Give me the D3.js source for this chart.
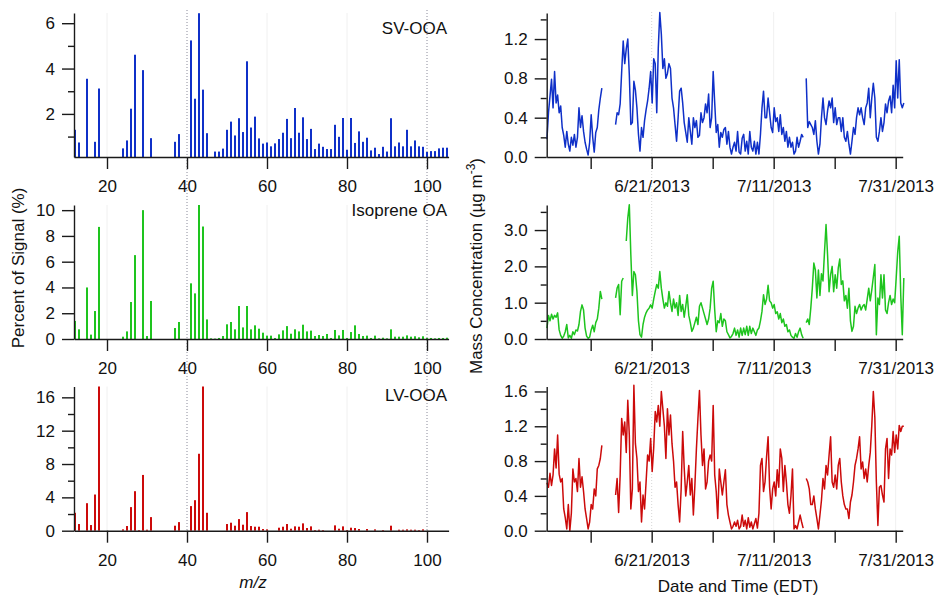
<!DOCTYPE html>
<html>
<head>
<meta charset="utf-8">
<script src="https://cdn.jsdelivr.net/npm/d3@7"></script>
<style>
  body { margin: 0; background: #fff; }
  svg text { font-family: "Liberation Sans", Arial, sans-serif; }
</style>
</head>
<body>
<div id="chart"></div>
<script>
// ---- mass spectra (m/z 12..105), percent of signal ----
var mz = d3.range(12, 106);
var svSpec = [
  1.3, 0.74, 0, 3.55, 0, 0.77, 3.12, 0, 0, 0,
  0, 0, 0.48, 0.83, 2.23, 4.61, 0, 3.93, 0, 0.93,
  0, 0, 0, 0, 0, 0.77, 1.11, 0, 0, 5.24,
  2.67, 6.44, 3.07, 1.15, 0, 0.34, 0.34, 0.47, 1.3, 1.66,
  1.05, 1.81, 1.2, 4.32, 1.4, 1.88, 0.92, 0.69, 0.74, 0.57,
  0.7, 0.89, 1.17, 1.78, 0.93, 2.26, 1.17, 1.85, 0.89, 1.34,
  0.45, 0.69, 0.55, 0.45, 0.45, 1.52, 0.99, 1.82, 0.42, 1.82,
  0.72, 1.23, 0.77, 0.95, 0.39, 0.51, 0.23, 0.55, 0.34, 1.81,
  0.57, 0.74, 0.57, 1.3, 0.57, 0.83, 0.57, 0.55, 0.32, 0.36,
  0.36, 0.48, 0.51, 0.51
];
var isoSpec = [
  1.4, 0.75, 0, 4.0, 0.34, 2.17, 8.7, 0, 0, 0,
  0, 0, 0.18, 0.59, 2.87, 6.51, 0, 10.0, 0.23, 2.95,
  0, 0, 0, 0, 0, 0.85, 1.32, 0, 0, 4.32,
  3.54, 10.46, 8.73, 1.52, 0.05, 0.03, 0.08, 0.23, 1.14, 1.32,
  0.75, 2.56, 0.9, 2.56, 0.75, 1.06, 0.8, 0.49, 0.26, 0.26,
  0.08, 0.36, 0.67, 1.0, 0.41, 0.75, 0.59, 1.11, 0.59, 0.65,
  0.23, 0.31, 0.23, 0.39, 0.08, 0.7, 0.28, 0.7, 0.08, 0.54,
  1.06, 0.39, 0.23, 0.26, 0.08, 0.26, 0.05, 0.1, 0.05, 0.75,
  0.18, 0.18, 0.18, 0.28, 0.18, 0.21, 0.13, 0.21, 0.08, 0.08,
  0.05, 0.08, 0.08, 0.1
];
var lvSpec = [
  2.15, 0.8, 0, 3.3, 0.68, 4.34, 17.3, 0, 0, 0,
  0, 0, 0.16, 0.56, 2.83, 4.74, 0.08, 6.69, 0.12, 1.63,
  0, 0, 0, 0, 0, 0.6, 1.03, 0, 0, 2.95,
  3.66, 9.23, 17.3, 2.15, 0, 0, 0, 0, 0.8, 0.96,
  0.6, 1.39, 0.72, 2.23, 0.56, 0.48, 0.48, 0.2, 0.16, 0,
  0, 0.36, 0.48, 0.8, 0.24, 0.52, 0.48, 0.88, 0.32, 0.52,
  0.08, 0.12, 0.08, 0, 0, 0.64, 0.24, 0.52, 0.08, 0.36,
  0.32, 0.2, 0, 0.2, 0, 0.16, 0, 0.08, 0, 0.6,
  0, 0.12, 0.12, 0.16, 0.12, 0.12, 0.08, 0.16, 0, 0,
  0, 0, 0, 0
];
var mzTicks = [20, 40, 60, 80, 100];

// ---- time series: one value every 6 h from 6/3/2013 20:00 EDT (ug m-3) ----
var tsStart = new Date(2013, 5, 3, 20);
var tsStepHours = 6;
var svTs = [
  0.18, 0.45, 0.62, 0.79, 0.5, 0.87, 0.55, 0.63, 0.45, 0.52,
  0.3, 0.22, 0.1, 0.26, 0.13, 0.06, 0.2, 0.12, 0.23, 0.1,
  0.2, 0.5, 0.3, 0.42, 0.26, 0.15, 0.08, 0.02, 0.15, 0.43,
  0.2, 0.05, 0.25, 0.3, 0.48, 0.6, 0.7, null, null, null,
  null, null, null, null, null, 0.33, 0.45, 0.43, 0.54, 0.87,
  1.18, 0.95, 1.1, 1.2, 0.84, 0.33, 0.35, 0.77, 0.68, 0.5,
  0.23, 0.06, 0.3, 0.2, 0.37, 0.48, 0.57, 0.7, 0.87, 0.55,
  1.0, 0.95, 0.45, 1.11, 1.47, 1.25, 0.9, 1.0, 0.8, 0.85,
  0.95, 0.9, 0.6, 0.5, 0.33, 0.16, 0.4, 0.67, 0.7, 0.55,
  0.35, 0.25, 0.15, 0.4, 0.26, 0.13, 0.4, 0.3, 0.37, 0.2,
  0.22, 0.45, 0.35, 0.4, 0.54, 0.45, 0.64, 0.3, 0.4, 0.87,
  0.55, 0.25, 0.33, 0.1, 0.25, 0.2, 0.28, 0.3, 0.13, 0.26,
  0.1, 0.03, 0.1, 0.15, 0.06, 0.26, 0.05, 0.03, 0.19, 0.23,
  0.06, 0.16, 0.03, 0.26, 0.1, 0.06, 0.16, 0.03, 0.15, 0.03,
  0.23, 0.5, 0.67, 0.4, 0.4, 0.6, 0.45, 0.3, 0.25, 0.5,
  0.36, 0.4, 0.26, 0.43, 0.23, 0.3, 0.16, 0.26, 0.1, 0.2,
  0.1, 0.15, 0.03, 0.06, 0.2, 0.1, 0.16, 0.23, 0.2, null,
  0.8, 0.3, 0.36, 0.33, 0.3, 0.23, 0.37, 0.16, 0.03, 0.13,
  0.4, 0.6, 0.4, 0.33, 0.47, 0.57, 0.5, 0.6, 0.35, 0.5,
  0.33, 0.4, 0.4, 0.26, 0.4, 0.2, 0.16, 0.26, 0.13, 0.03,
  0.16, 0.3, 0.23, 0.4, 0.5, 0.43, 0.5, 0.4, 0.33, 0.5,
  0.55, 0.7, 0.4, 0.6, 0.75, 0.6, 0.2, 0.16, 0.26, 0.4,
  0.26, 0.35, 0.54, 0.45, 0.57, 0.62, 0.45, 0.73, 0.5, 0.98,
  0.6, 0.99, 0.55, 0.5, 0.55
];
var isoTs = [
  0.3, 0.65, 0.5, 0.68, 0.55, 0.65, 0.6, 0.72, 0.25, 0.1,
  0.02, 0.08, 0.2, 0.4, 0.03, 0.1, 0.02, 0.2, 0.12, 0.25,
  0.22, 0.4, 0.76, 0.94, 0.8, 0.3, 0.08, 0.02, 0.05, 0.25,
  0.38, 0.2, 0.45, 0.55, 0.85, 1.31, 1.1, null, null, null,
  null, null, null, null, null, 1.13, 1.4, 1.5, 0.67, 1.59,
  1.68, null, 2.7, 3.33, 3.7, 2.32, 1.2, 1.86, 1.77, 1.31,
  0.5, 0.12, 0.05, 0.4, 0.6, 0.72, 0.8, 0.85, 0.94, 0.85,
  1.1, 1.31, 1.5, 1.4, 1.86, 1.4, 1.1, 0.85, 1.0, 0.9,
  1.31, 1.0, 0.76, 1.1, 0.85, 1.0, 0.65, 1.2, 0.76, 0.95,
  0.6, 0.9, 1.22, 0.65, 0.45, 0.21, 0.3, 0.45, 0.6, 0.4,
  0.9, 1.0, 0.85, 0.7, 0.55, 0.4, 0.55, 0.85, 1.4, 1.59,
  0.8, 0.2, 0.5, 0.45, 0.7, 0.35, 0.55, 0.5, 0.2, 0.12,
  0.03, 0.07, 0.15, 0.3, 0.1, 0.25, 0.05, 0.3, 0.1, 0.3,
  0.12, 0.35, 0.1, 0.35, 0.15, 0.3, 0.2, 0.1, 0.25, 0.3,
  0.5, 0.76, 1.22, 0.95, 1.1, 1.48, 1.05, 1.0, 0.85, 0.95,
  0.7, 0.75, 0.55, 0.7, 0.45, 0.55, 0.35, 0.4, 0.2, 0.25,
  0.1, 0.05, 0.02, 0.15, 0.05, 0.2, 0.3, 0.12, 0.02, null,
  0.45, 0.55, 0.4, 0.85, 1.4, 2.09, 1.9, 1.13, 1.9, 1.2,
  1.8, 1.6, 2.4, 3.15, 2.32, 1.3, 1.77, 2.0, 1.3, 1.77,
  1.4, 1.95, 2.2, 1.5, 1.6, 1.05, 1.2, 0.85, 1.4, 0.5,
  0.21, 0.35, 0.9, 0.7, 0.85, 0.95, 0.8, 0.9, 0.95, 0.8,
  1.1, 1.4, 1.05, 1.35, 1.7, 2.05, 0.12, 1.13, 0.95, 1.77,
  1.13, 1.77, 0.8, 0.7, 1.0, 1.2, 0.95, 1.1, 1.0, 1.68,
  2.4, 2.83, 1.2, 0.12, 1.68
];
var lvTs = [
  0.55, 0.5, 0.66, 0.52, 0.64, 0.94, 0.72, 1.1, 0.65, 0.56,
  0.6, 0.25, 0.15, 0.02, 0.3, 0.0, 0.2, 0.71, 0.56, 0.6,
  0.45, 0.83, 0.5, 0.62, 0.45, 0.25, 0.14, 0.02, 0.1, 0.3,
  0.25, 0.48, 0.4, 0.71, 0.75, 0.83, 0.98, null, null, null,
  null, null, null, null, null, 0.41, 0.6, 0.21, 0.64, 1.29,
  1.1, 1.25, 0.9, 1.5, 1.1, 0.25, 0.48, 1.67, 1.0, 0.83,
  0.45, 0.56, 0.1, 0.41, 0.25, 0.56, 0.87, 0.8, 1.06, 0.68,
  0.95, 1.37, 1.25, 1.44, 1.2, 1.6, 1.4, 1.2, 0.83, 1.4,
  1.1, 1.33, 1.0, 0.8, 0.5, 0.56, 0.3, 0.1, 0.48, 1.14,
  0.72, 0.4, 0.56, 0.75, 0.41, 0.6, 0.18, 0.52, 0.94, 1.29,
  1.61, 1.1, 0.75, 0.94, 0.48, 0.56, 0.8, 0.87, 0.8, 1.44,
  0.64, 0.45, 0.14, 0.71, 0.56, 0.41, 0.56, 0.7, 0.3, 0.18,
  0.1, 0.02, 0.05, 0.1, 0.05, 0.12, 0.02, 0.05, 0.18, 0.05,
  0.12, 0.02, 0.15, 0.04, 0.1, 0.02, 0.08, 0.14, 0.03, 0.2,
  0.75, 0.83, 0.45, 0.56, 0.85, 1.08, 0.5, 0.25, 0.48, 0.56,
  0.4, 0.7, 0.5, 0.94, 0.83, 0.45, 0.75, 0.56, 0.3, 0.2,
  0.4, 0.71, 0.02, 0.06, 0.02, 0.1, 0.18, 0.1, 0.03, null,
  0.6, 0.56, 0.48, 0.3, 0.3, 0.4, 0.25, 0.14, 0.02, 0.18,
  0.35, 0.6, 0.48, 0.75, 0.64, 0.87, 1.08, 0.56, 0.5, 0.64,
  0.48, 0.75, 0.83, 0.56, 0.4, 0.3, 0.25, 0.25, 0.14, 0.33,
  0.41, 0.56, 0.75, 0.83, 0.94, 1.08, 0.71, 0.79, 0.6, 0.71,
  0.56, 0.75, 0.9, 1.21, 1.6, 1.3, 0.56, 0.06, 0.5, 0.52,
  0.41, 0.33, 0.94, 1.06, 0.6, 0.94, 0.87, 1.14, 0.9, 1.1,
  0.94, 1.21, 1.14, 1.2, 1.2
];
var timeTicks = ["6/11/2013", "6/21/2013", "7/1/2013", "7/11/2013", "7/21/2013", "7/31/2013"];
var timeLabels = ["6/21/2013", "7/11/2013", "7/31/2013"];

var names = ["SV-OOA", "Isoprene OA", "LV-OOA"];
var colors = ["#0f30c8", "#1ec41e", "#cc0a0a"];

var W = 936, H = 595;
var FONT = 17;
var parseDate = d3.timeParse("%m/%d/%Y");

var svg = d3.select("#chart").append("svg")
  .attr("width", W)
  .attr("height", H);

// panel layout
var rows = [
  { top: 13, bottom: 157 },
  { top: 205, bottom: 339 },
  { top: 386.5, bottom: 530.7 }
];
var specCfg = [
  { vals: svSpec, dom: [0.1, 6.45], major: [2, 4, 6], minor: [1, 3, 5] },
  { vals: isoSpec, dom: [0, 10.4], major: [0, 2, 4, 6, 8, 10], minor: [] },
  { vals: lvSpec, dom: [0, 17.3], major: [0, 4, 8, 12, 16], minor: [2, 6, 10, 14] }
];
var tsCfg = [
  { vals: svTs, dom: [0, 1.465], major: [0, 0.4, 0.8, 1.2], minor: [0.2, 0.6, 1.0, 1.4], fmt: ".1f" },
  { vals: isoTs, dom: [0, 3.69], major: [0, 1, 2, 3], minor: [0.5, 1.5, 2.5, 3.5], fmt: ".1f" },
  { vals: lvTs, dom: [0, 1.657], major: [0, 0.4, 0.8, 1.2, 1.6], minor: [0.2, 0.6, 1.0, 1.4], fmt: ".1f" }
];

var xMz = d3.scaleLinear().domain([11.75, 105.4]).range([74, 448.6]);
var xT = d3.scaleTime()
  .domain([new Date(2013, 5, 3, 19), new Date(2013, 7, 1, 3, 36)])
  .range([546.7, 902.7]);

function styleAxis(g) {
  g.attr("font-size", FONT)
    .attr("font-family", "Liberation Sans, Arial, sans-serif")
    .attr("color", "#1a1a1a");
  g.selectAll("path, line").attr("stroke-width", 1.4);
  g.selectAll("text").attr("fill", "#111");
}

function drawYAxis(x, y, major, minor, fmt) {
  var g = svg.append("g").attr("transform", "translate(" + x + ",0)");
  g.call(d3.axisLeft(y).tickValues(major).tickSize(12).tickPadding(7)
    .tickSizeOuter(0).tickFormat(fmt));
  styleAxis(g);
  if (minor.length) {
    var m = svg.append("g").attr("transform", "translate(" + x + ",0)");
    m.call(d3.axisLeft(y).tickValues(minor).tickSize(6).tickFormat("").tickSizeOuter(0));
    m.select(".domain").remove();
    styleAxis(m);
  }
}

// faint grid + dotted reference lines (left)
[20, 60, 80].forEach(function (v) {
  rows.forEach(function (r) {
    svg.append("line")
      .attr("x1", xMz(v)).attr("x2", xMz(v))
      .attr("y1", r.top).attr("y2", r.bottom)
      .attr("stroke", "#f0f0f0").attr("stroke-width", 1);
  });
});
[40, 100].forEach(function (v) {
  svg.append("line")
    .attr("x1", xMz(v)).attr("x2", xMz(v))
    .attr("y1", 10).attr("y2", rows[2].bottom)
    .attr("stroke", "#8a8a9a").attr("stroke-width", 1)
    .attr("stroke-dasharray", "1,2");
});
// faint date grid (right)
timeLabels.forEach(function (s, i) {
  var xx = xT(parseDate(s));
  svg.append("line")
    .attr("x1", xx).attr("x2", xx)
    .attr("y1", 12).attr("y2", rows[2].bottom)
    .attr("stroke", i === 0 ? "#d6d6d6" : "#f0f0f0").attr("stroke-width", 1)
    .attr("stroke-dasharray", i === 0 ? "1,2" : null);
});

// ---- left: mass spectra ----
specCfg.forEach(function (c, k) {
  var r = rows[k];
  var y = d3.scaleLinear().domain(c.dom).range([r.bottom, r.top]).clamp(true);
  var data = mz.map(function (m, i) { return { mz: m, v: c.vals[i] }; })
    .filter(function (d) { return d.v > c.dom[0]; });

  svg.append("g").selectAll("rect")
    .data(data)
    .enter()
    .append("rect")
    .attr("x", function (d) { return xMz(d.mz) - 1; })
    .attr("y", function (d) { return y(d.v); })
    .attr("width", 2)
    .attr("height", function (d) { return r.bottom - y(d.v); })
    .attr("fill", colors[k]);

  drawYAxis(74, y, c.major, c.minor, d3.format("d"));

  var gx = svg.append("g").attr("transform", "translate(0," + r.bottom + ")");
  gx.call(d3.axisBottom(xMz).tickValues(mzTicks).tickSize(12).tickPadding(11).tickSizeOuter(0));
  styleAxis(gx);

  svg.append("text")
    .attr("x", 447).attr("y", [34, 216, 401][k])
    .attr("text-anchor", "end")
    .attr("font-size", FONT)
    .attr("fill", "#111")
    .text(names[k]);
});

// ---- right: time series ----
var tickDates = timeTicks.map(parseDate);
tsCfg.forEach(function (c, k) {
  var r = rows[k];
  var y = d3.scaleLinear().domain(c.dom).range([r.bottom, r.top]);
  var pts = c.vals.map(function (v, i) {
    return { t: d3.timeHour.offset(tsStart, i * tsStepHours), v: v };
  });
  var line = d3.line()
    .defined(function (d) { return d.v !== null; })
    .x(function (d) { return xT(d.t); })
    .y(function (d) { return y(d.v); });

  svg.append("path")
    .datum(pts)
    .attr("d", line)
    .attr("fill", "none")
    .attr("stroke", colors[k])
    .attr("stroke-width", 1.5)
    .attr("stroke-linejoin", "round");

  drawYAxis(546.7, y, c.major, c.minor, d3.format(c.fmt));

  var gx = svg.append("g").attr("transform", "translate(0," + r.bottom + ")");
  gx.call(d3.axisBottom(xT).tickValues(tickDates).tickSize(12).tickPadding(11).tickSizeOuter(0)
    .tickFormat(function (d) {
      var s = (d.getMonth() + 1) + "/" + d.getDate() + "/" + d.getFullYear();
      return timeLabels.indexOf(s) >= 0 ? s : "";
    }));
  styleAxis(gx);
});

// ---- axis titles ----
svg.append("text")
  .attr("transform", "translate(24,268) rotate(-90)")
  .attr("text-anchor", "middle")
  .attr("font-size", FONT)
  .attr("fill", "#111")
  .text("Percent of Signal (%)");

var yt = svg.append("text")
  .attr("transform", "translate(482,266) rotate(-90)")
  .attr("text-anchor", "middle")
  .attr("font-size", FONT)
  .attr("fill", "#111");
yt.append("tspan").text("Mass Concentration (\u00b5g m");
yt.append("tspan").attr("baseline-shift", "super").attr("font-size", 12).text("-3");
yt.append("tspan").text(")");

svg.append("text")
  .attr("x", 253).attr("y", 588)
  .attr("text-anchor", "middle")
  .attr("font-size", FONT)
  .attr("font-style", "italic")
  .attr("fill", "#111")
  .text("m/z");

svg.append("text")
  .attr("x", 738).attr("y", 592)
  .attr("text-anchor", "middle")
  .attr("font-size", FONT)
  .attr("fill", "#111")
  .text("Date and Time (EDT)");
</script>
</body>
</html>
